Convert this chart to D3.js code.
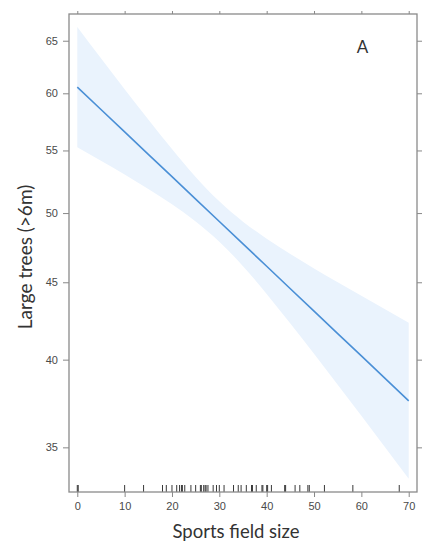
<!DOCTYPE html>
<html>
<head>
<meta charset="utf-8">
<script src="https://cdn.jsdelivr.net/npm/d3@7"></script>
<style>
  html, body { margin: 0; padding: 0; background: #fff; }
  svg { display: block; }
  .tick text { font-family: "Liberation Sans", Arial, sans-serif; font-size: 11px; fill: #4a4a4a; }
  .tick line { stroke: #888; }
  .title { font-family: Lato, "Open Sans", sans-serif; fill: #333; }
</style>
</head>
<body>
<div id="chart"></div>
<script>
// Effect of sports field size on large trees (fitted on log scale)
const fitX     = [0, 5, 10, 15, 20, 25, 30, 35, 40, 45, 50, 55, 60, 65, 70];
const fitValue = [60.57, 58.54, 56.58, 54.68, 52.85, 51.07, 49.36, 47.71, 46.11, 44.56, 43.07, 41.62, 40.23, 38.88, 37.57];
const upper    = [66.37, 63.29, 60.38, 57.65, 55.12, 52.83, 50.90, 49.35, 48.09, 46.98, 45.96, 45.00, 44.08, 43.19, 42.31];
const lower    = [55.28, 54.15, 53.02, 51.86, 50.68, 49.37, 47.87, 46.12, 44.21, 42.26, 40.36, 38.50, 36.72, 35.00, 33.36];

// observed sports field sizes (rug)
const rugValues = [0, 0.2, 10, 14, 18, 18.8, 20, 21, 21.6, 22, 22.2, 22.7, 24, 25, 26, 26.2, 26.7, 27, 27.2, 27.6,
  28.7, 29.4, 30, 31, 33, 34, 34.6, 35.7, 36.8, 37, 37.8, 39, 39.2, 40, 40.2, 41, 43.8, 44, 46, 47, 48.7, 49, 52.2, 58.2, 68];

const xTicks = [0, 10, 20, 30, 40, 50, 60, 70];
const yTicks = [35, 40, 45, 50, 55, 60, 65];

const W = 444, H = 550;
const margin = { top: 14, right: 27, bottom: 58, left: 69 };
const w = W - margin.left - margin.right, h = H - margin.top - margin.bottom;

const svg = d3.select("#chart").append("svg")
  .attr("width", W).attr("height", H);
const g = svg.append("g").attr("transform", `translate(${margin.left},${margin.top})`);

const x = d3.scaleLinear().domain([-1.75, 71.75]).range([0, w]);
const y = d3.scaleLog().domain([32.7, 67.7]).range([h, 0]);

const rows = fitX.map((v, i) => ({ x: v, fit: fitValue[i], hi: upper[i], lo: lower[i] }));

// confidence band
g.append("path").datum(rows)
  .attr("fill", "#eaf3fd")
  .attr("d", d3.area().curve(d3.curveNatural)
    .x(d => x(d.x)).y0(d => y(d.lo)).y1(d => y(d.hi)));

// fitted line
g.append("path").datum(rows)
  .attr("fill", "none").attr("stroke", "#4a8fd6").attr("stroke-width", 1.6)
  .attr("d", d3.line().x(d => x(d.x)).y(d => y(d.fit)));

// rug
g.append("g").selectAll("line").data(rugValues).join("line")
  .attr("x1", d => x(d)).attr("x2", d => x(d))
  .attr("y1", h).attr("y2", h - 7)
  .attr("stroke", "#222").attr("stroke-width", 0.9);

// axes
const noLabel = () => "";
g.append("g").attr("transform", `translate(0,${h})`)
  .call(d3.axisBottom(x).tickValues(xTicks).tickSize(5).tickPadding(5))
  .call(a => a.select(".domain").remove());
g.append("g")
  .call(d3.axisTop(x).tickValues(xTicks).tickSize(3).tickFormat(noLabel))
  .call(a => a.select(".domain").remove());
g.append("g")
  .call(d3.axisLeft(y).tickValues(yTicks).tickSize(6).tickPadding(5).tickFormat(d3.format("d")))
  .call(a => a.select(".domain").remove());
g.append("g").attr("transform", `translate(${w},0)`)
  .call(d3.axisRight(y).tickValues(yTicks).tickSize(5).tickFormat(noLabel))
  .call(a => a.select(".domain").remove());

// panel frame
g.append("rect").attr("width", w).attr("height", h)
  .attr("fill", "none").attr("stroke", "#8a8a8a").attr("stroke-width", 1.3);

// panel letter
g.append("text").attr("class", "title")
  .attr("x", 293.5).attr("y", 39).attr("text-anchor", "middle")
  .attr("font-size", 17).attr("fill", "#222").text("A");

// axis titles
svg.append("text").attr("class", "title")
  .attr("x", 236).attr("y", 538).attr("text-anchor", "middle")
  .attr("font-size", 18.5).text("Sports field size");
svg.append("text").attr("class", "title")
  .attr("transform", "translate(32,257) rotate(-90)")
  .attr("text-anchor", "middle").attr("font-size", 19).text("Large trees (>6m)");
</script>
</body>
</html>
